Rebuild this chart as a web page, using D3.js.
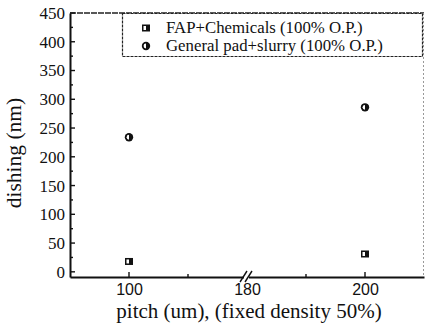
<!DOCTYPE html>
<html>
<head>
<meta charset="utf-8">
<script src="https://cdn.jsdelivr.net/npm/d3@7"></script>
<style>
  body { margin: 0; background: #fff; }
  svg { display: block; }
</style>
</head>
<body>
<div id="chart"></div>
<script>
// data
const xTicks = [100, 180, 200];
const pitches = [100, 200];
const fapValues = [18, 31];
const generalValues = [234, 286];
const yTicks = [0, 50, 100, 150, 200, 250, 300, 350, 400, 450];
const seriesNames = ['FAP+Chemicals (100% O.P.)', 'General pad+slurry (100% O.P.)'];

const width = 425, height = 326;
const margin = { top: 13, right: 1, bottom: 49, left: 70 };

const svg = d3.select('#chart').append('svg')
    .attr('width', width)
    .attr('height', height);

// broken x axis: ticks are evenly spaced by index
const x = d3.scaleLinear().domain([-0.5, 2.5]).range([margin.left, width - margin.right]);
const y = d3.scaleLinear().domain([-9, 450]).range([height - margin.bottom, margin.top]);
const xPos = p => x(xTicks.indexOf(p));

const serif = "'Liberation Serif', 'DejaVu Serif', serif";
const sans = "'Liberation Sans', Arial, sans-serif";

// top and right frame
svg.append('line')
    .attr('x1', x(-0.5)).attr('x2', x(2.5))
    .attr('y1', y(450)).attr('y2', y(450))
    .attr('stroke', '#222').attr('stroke-width', 1.6)
    .attr('stroke-dasharray', '6,1');
svg.append('line')
    .attr('x1', x(2.5) - 0.5).attr('x2', x(2.5) - 0.5)
    .attr('y1', y(450)).attr('y2', y(-9))
    .attr('stroke', '#999').attr('stroke-width', 1)
    .attr('stroke-dasharray', '2,2');

// y axis
const yAxis = svg.append('g')
    .attr('transform', `translate(${margin.left},0)`)
    .call(d3.axisLeft(y).tickValues(yTicks).tickSize(0).tickPadding(5));
yAxis.select('.domain').attr('stroke', '#111').attr('stroke-width', 2);
yAxis.selectAll('text')
    .attr('font-family', serif).attr('font-size', 17)
    .attr('fill', '#111');
// inward major and minor ticks
svg.append('g').selectAll('line')
    .data(d3.range(0, 451, 25))
    .join('line')
    .attr('x1', margin.left)
    .attr('x2', d => margin.left + (d % 50 === 0 ? 5 : 3))
    .attr('y1', d => y(d)).attr('y2', d => y(d))
    .attr('stroke', '#111').attr('stroke-width', 1.4);

// x axis
const xAxis = svg.append('g')
    .attr('transform', `translate(0,${y(-9)})`)
    .call(d3.axisBottom(x).tickValues([0, 1, 2]).tickFormat(i => xTicks[i]).tickSize(0).tickPadding(7));
xAxis.select('.domain').attr('stroke', '#111').attr('stroke-width', 2);
xAxis.selectAll('text')
    .attr('font-family', sans).attr('font-size', 16)
    .attr('fill', '#111');
svg.append('g').selectAll('line')
    .data([0, 0.5, 1.5, 2])
    .join('line')
    .attr('x1', d => x(d)).attr('x2', d => x(d))
    .attr('y1', y(-9)).attr('y2', d => y(-9) - (Number.isInteger(d) ? 5 : 3))
    .attr('stroke', '#111').attr('stroke-width', 1.4);

// axis break marks at 180
const bx = x(1), by = y(-9);
svg.append('rect')
    .attr('x', bx - 3).attr('y', by - 3).attr('width', 5).attr('height', 6)
    .attr('fill', '#fff');
[-4, 1].forEach(off => {
    svg.append('line')
        .attr('x1', bx + off - 3).attr('y1', by + 5)
        .attr('x2', bx + off + 4).attr('y2', by - 6)
        .attr('stroke', '#111').attr('stroke-width', 1.4);
});

// markers: half filled square / circle
function squareMark(g, cx, cy) {
    g.append('rect').attr('x', cx - 4).attr('y', cy - 3.5).attr('width', 8).attr('height', 7)
        .attr('fill', '#111');
    g.append('rect').attr('x', cx - 2.5).attr('y', cy - 2).attr('width', 2.5).attr('height', 4)
        .attr('fill', '#fff');
}
function circleMark(g, cx, cy) {
    g.append('circle').attr('cx', cx).attr('cy', cy).attr('r', 4.2).attr('fill', '#111');
    g.append('path')
        .attr('d', `M${cx},${cy - 2.4} A2.4,2.4 0 0 0 ${cx},${cy + 2.4} Z`)
        .attr('fill', '#fff');
}

const marks = svg.append('g');
pitches.forEach((p, i) => {
    squareMark(marks, xPos(p), y(fapValues[i]));
    circleMark(marks, xPos(p), y(generalValues[i]));
});

// legend
const lg = svg.append('g');
lg.append('rect')
    .attr('x', 122.5).attr('y', 13.5).attr('width', 300).attr('height', 43)
    .attr('fill', '#fff').attr('stroke', '#222').attr('stroke-width', 1.2)
    .attr('stroke-dasharray', '3,1');
squareMark(lg, 146, 28);
circleMark(lg, 146, 46);
lg.selectAll('text')
    .data(seriesNames)
    .join('text')
    .attr('x', 166)
    .attr('y', (d, i) => 33 + i * 18)
    .attr('font-family', serif).attr('font-size', 16.8)
    .attr('fill', '#111')
    .text(d => d);

// axis titles
svg.append('text')
    .attr('x', 249).attr('y', 318)
    .attr('text-anchor', 'middle')
    .attr('font-family', serif).attr('font-size', 21)
    .attr('fill', '#111')
    .text('pitch (um), (fixed density 50%)');
svg.append('text')
    .attr('transform', 'translate(21,153) rotate(-90)')
    .attr('text-anchor', 'middle')
    .attr('font-family', serif).attr('font-size', 21.5)
    .attr('fill', '#111')
    .text('dishing (nm)');
</script>
</body>
</html>
